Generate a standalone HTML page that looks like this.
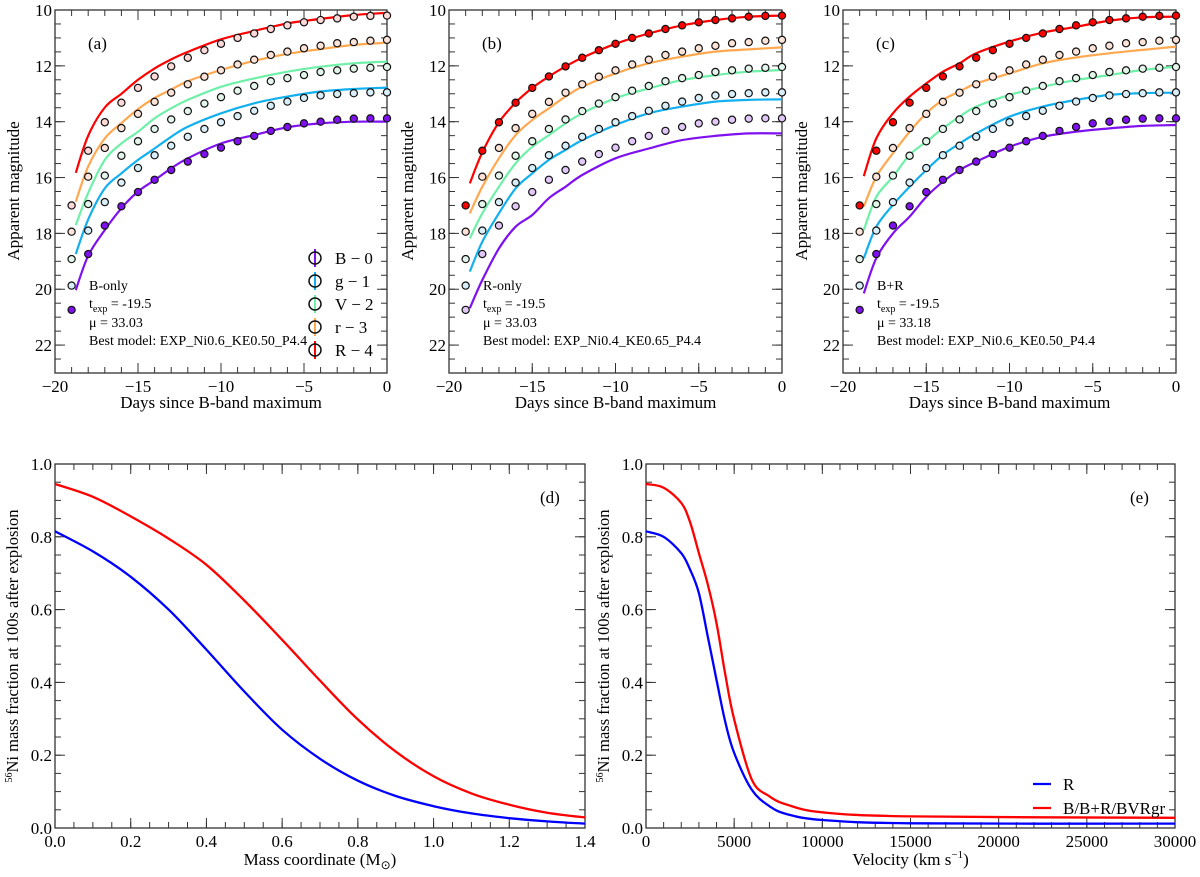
<!DOCTYPE html>
<html><head><meta charset="utf-8">
<style>
body{margin:0;background:#fff;}
svg{display:block;font-family:"Liberation Serif",serif;}
</style></head>
<body>
<svg id="fig" width="1200" height="877" viewBox="0 0 1200 877" xmlns="http://www.w3.org/2000/svg"></svg>
<script>
// ---- Light-curve data (shared observed points) ----
const obsDays = [-19,-18,-17,-16,-15,-14,-13,-12,-11,-10,-9,-8,-7,-6,-5,-4,-3,-2,-1,0];
const obsR = [17.0,15.04,14.02,13.32,12.79,12.38,12.02,11.71,11.44,11.21,11.0,10.84,10.68,10.55,10.44,10.36,10.30,10.24,10.21,10.20];
const obsr = [17.94,15.97,14.94,14.23,13.72,13.29,12.96,12.66,12.39,12.16,11.95,11.78,11.61,11.49,11.37,11.28,11.19,11.15,11.10,11.07];
const obsV = [18.92,16.95,15.93,15.22,14.70,14.26,13.92,13.62,13.35,13.12,12.89,12.72,12.55,12.44,12.33,12.22,12.16,12.10,12.07,12.04];
const obsg = [19.87,17.90,16.88,16.18,15.66,15.20,14.86,14.54,14.26,14.02,13.80,13.61,13.43,13.28,13.15,13.06,13.01,12.98,12.95,12.95];
const obsB = [20.74,18.74,17.72,17.03,16.52,16.08,15.73,15.43,15.16,14.93,14.70,14.51,14.33,14.19,14.06,14.00,13.93,13.89,13.88,13.88];
const modelDays = [-18.75,-18,-17,-16,-15,-14,-13,-12,-10,-8,-6,-4,-2,0];
// panel a models
const aR = [15.83,14.5,13.49,13.0,12.5,12.09,11.77,11.5,11.05,10.75,10.48,10.32,10.18,10.1];
const ar = [16.86,15.6,14.6,14.05,13.55,13.15,12.85,12.55,12.15,11.82,11.57,11.4,11.25,11.17];
const aV = [17.7,16.55,15.37,14.78,14.36,13.88,13.52,13.22,12.75,12.45,12.21,12.03,11.91,11.85];
const ag = [18.74,17.5,16.39,15.85,15.37,14.96,14.54,14.18,13.7,13.34,13.1,12.92,12.83,12.78];
const aB = [20.03,18.8,17.88,17.1,16.5,16.09,15.67,15.31,14.78,14.48,14.2,14.06,14.0,14.0];
// panel b models
const bR = [16.21,15.1,14.02,13.32,12.79,12.38,12.02,11.71,11.21,10.84,10.55,10.36,10.24,10.2];
const br = [17.28,16.33,15.31,14.48,13.94,13.52,13.1,12.75,12.27,11.91,11.67,11.49,11.41,11.34];
const bV = [18.18,17.28,16.33,15.49,14.9,14.48,14.06,13.7,13.16,12.81,12.51,12.33,12.21,12.15];
const bg = [19.37,18.3,17.28,16.39,15.85,15.37,15.01,14.66,14.12,13.7,13.46,13.28,13.22,13.2];
const bB = [20.68,19.67,18.54,17.76,17.34,16.74,16.33,15.91,15.31,14.96,14.66,14.51,14.42,14.42];
// panel c models
const cR = [15.95,14.6,13.7,13.1,12.63,12.21,11.91,11.55,11.13,10.81,10.6,10.38,10.26,10.24];
const cr = [17.04,15.97,15.13,14.36,13.7,13.22,12.92,12.63,12.27,11.91,11.7,11.55,11.43,11.31];
const cV = [17.88,16.69,15.97,15.19,14.72,14.24,13.82,13.46,13.04,12.75,12.51,12.33,12.15,12.03];
const cg = [18.89,17.76,16.98,16.33,15.73,15.19,14.78,14.42,13.82,13.46,13.22,13.04,12.98,12.96];
const cB = [20.15,18.89,18.0,17.4,16.69,16.15,15.73,15.43,14.9,14.54,14.36,14.24,14.15,14.12];
const magTicks = [10,12,14,16,18,20,22];
const dayTicks = [-20,-15,-10,-5,0];
// ---- Ni profiles ----
const massX = [0,0.1,0.2,0.3,0.4,0.5,0.6,0.7,0.8,0.9,1.0,1.1,1.2,1.3,1.4];
const massRed = [0.945,0.91,0.856,0.795,0.723,0.625,0.517,0.405,0.298,0.21,0.142,0.095,0.064,0.042,0.029];
const massBlue = [0.815,0.76,0.69,0.60,0.49,0.375,0.27,0.19,0.13,0.088,0.06,0.04,0.027,0.018,0.012];
const velX = [0,1000,2000,2500,3000,3500,4000,4500,5000,6000,7000,8000,10000,15000,30000];
const velRed = [0.945,0.935,0.893,0.84,0.755,0.67,0.563,0.42,0.298,0.133,0.087,0.064,0.043,0.032,0.028];
const velBlue = [0.815,0.8,0.755,0.71,0.645,0.527,0.407,0.29,0.206,0.105,0.06,0.038,0.022,0.013,0.012];
const massTicks = [0,0.2,0.4,0.6,0.8,1.0,1.2,1.4];
const velTicks = [0,5000,10000,15000,20000,25000,30000];
const fracTicks = [0,0.2,0.4,0.6,0.8,1.0];

const NS='http://www.w3.org/2000/svg';
const svg=document.getElementById('fig');
function mk(tag,attrs,parent){const e=document.createElementNS(NS,tag);for(const k in attrs)e.setAttribute(k,attrs[k]);(parent||svg).appendChild(e);return e;}
function scale(d0,d1,p0,p1){return v=>p0+(v-d0)/(d1-d0)*(p1-p0);}

const COL={R:'#ff0000',r:'#ffa850',V:'#6ef0a8',g:'#12b0ee',B:'#7f10f0'};

function frame(g,L,R,T,B,sx,sy,xmaj,xmin,ymaj,ymin,xfmt,yfmt){
  mk('rect',{x:L,y:T,width:R-L,height:B-T,fill:'none',stroke:'#333',"stroke-width":1.3},g);
  for(const v of xmin){const x=sx(v);mk('line',{x1:x,x2:x,y1:B,y2:B-6,stroke:'#333'},g);mk('line',{x1:x,x2:x,y1:T,y2:T+6,stroke:'#333'},g);}
  for(const v of xmaj){const x=sx(v);mk('line',{x1:x,x2:x,y1:B,y2:B-10,stroke:'#333'},g);mk('line',{x1:x,x2:x,y1:T,y2:T+10,stroke:'#333'},g);
    const t=mk('text',{x:x,y:B+19,"text-anchor":"middle","font-size":17},g);t.textContent=xfmt(v);
    
    }
  for(const v of ymin){const y=sy(v);mk('line',{x1:L,x2:L+6,y1:y,y2:y,stroke:'#333'},g);mk('line',{x1:R,x2:R-6,y1:y,y2:y,stroke:'#333'},g);}
  for(const v of ymaj){const y=sy(v);mk('line',{x1:L,x2:L+10,y1:y,y2:y,stroke:'#333'},g);mk('line',{x1:R,x2:R-10,y1:y,y2:y,stroke:'#333'},g);
    const t=mk('text',{x:L-3,y:y+6,"text-anchor":"end","font-size":17},g);t.textContent=yfmt(v);
    
    }
}
function line(g,xs,ys,sx,sy,color,w,name){
  const P=xs.map((x,i)=>[sx(x),sy(ys[i])]);
  let d='M'+P[0][0].toFixed(1)+' '+P[0][1].toFixed(1);
  for(let i=0;i<P.length-1;i++){
    const p0=P[Math.max(0,i-1)],p1=P[i],p2=P[i+1],p3=P[Math.min(P.length-1,i+2)];
    const c1=[p1[0]+(p2[0]-p0[0])/6,p1[1]+(p2[1]-p0[1])/6];
    const c2=[p2[0]-(p3[0]-p1[0])/6,p2[1]-(p3[1]-p1[1])/6];
    d+=' C'+c1[0].toFixed(1)+' '+c1[1].toFixed(1)+' '+c2[0].toFixed(1)+' '+c2[1].toFixed(1)+' '+p2[0].toFixed(1)+' '+p2[1].toFixed(1);
  }
  const p=mk('path',{d:d,fill:'none',stroke:color,"stroke-width":w,"stroke-linejoin":"round"},g);
  
  
}

function lcPanel(L,R,letter,models,fills,info){
  const g=mk('g',{});
  
  
  const T=10,B=373;
  const sx=scale(-20,0,L,R), sy=scale(10,23,T,B);
  const minX=[];for(let v=-20;v<=0;v++)minX.push(v);
  const minY=[];for(let v=10;v<=23;v+=0.5)minY.push(v);
  frame(g,L,R,T,B,sx,sy,dayTicks,minX,magTicks,minY,v=>v<0?'\u2212'+(-v):''+v,v=>''+v);
  const bands=['R','r','V','g','B'];
  const obs={R:obsR,r:obsr,V:obsV,g:obsg,B:obsB};
  bands.forEach(b=>line(g,modelDays,models[b],sx,sy,COL[b],2.2,'model-line-'+b));
  bands.forEach(b=>{obs[b].forEach((m,i)=>{
    const c=mk('circle',{cx:sx(obsDays[i]),cy:sy(m),r:3.6,fill:fills[b],stroke:'#111',"stroke-width":1.2},g);
    
    
  });});
  const lab=mk('text',{x:L+33,y:49,"font-size":17},g);lab.textContent='('+letter+')';
  
  
  const ix=L+34;
  const t1=mk('text',{x:ix,y:290,"font-size":14},g);t1.textContent=info[0];
  
  
  const t2=mk('text',{x:ix,y:308,"font-size":14},g);
  
  
  t2.innerHTML='t<tspan font-size="10" dy="4">exp</tspan><tspan dy="-4"> = -19.5</tspan>';
  const t3=mk('text',{x:ix,y:327,"font-size":14},g);t3.textContent='\u03bc = '+info[1];
  
  
  const t4=mk('text',{x:ix,y:345,"font-size":14},g);t4.textContent='Best model: '+info[2];
  
  
  const yl=mk('text',{x:0,y:0,"font-size":17,"text-anchor":"middle",transform:`translate(${L-36},191) rotate(-90)`},g);yl.textContent='Apparent magnitude';
  
  
  const xl=mk('text',{x:(L+R)/2,y:408,"font-size":17,"text-anchor":"middle"},g);xl.textContent='Days since B-band maximum';
  
  
  return g;
}
const light={R:'#ffd8d8',r:'#fde3d8',V:'#e4f6ec',g:'#d8eef8',B:'#eadcf8'};
lcPanel(55,387,'a',{R:aR,r:ar,V:aV,g:ag,B:aB},Object.assign({},light,{B:COL.B}),['B-only','33.03','EXP_Ni0.6_KE0.50_P4.4']);
lcPanel(449,782,'b',{R:bR,r:br,V:bV,g:bg,B:bB},Object.assign({},light,{R:COL.R,B:'#e2c8f8'}),['R-only','33.03','EXP_Ni0.4_KE0.65_P4.4']);
lcPanel(843,1176,'c',{R:cR,r:cr,V:cV,g:cg,B:cB},Object.assign({},light,{R:COL.R,B:COL.B}),['B+R','33.18','EXP_Ni0.6_KE0.50_P4.4']);

// legend in panel a
const legNames=[['B','B \u2212 0'],['g','g \u2212 1'],['V','V \u2212 2'],['r','r \u2212 3'],['R','R \u2212 4']];
legNames.forEach((n,i)=>{
  const y=258+i*23;
  const g=mk('g',{});
  
  
  mk('line',{x1:315,x2:315,y1:y-9,y2:y+9,stroke:COL[n[0]],"stroke-width":2},g);
  mk('circle',{cx:315,cy:y,r:6,fill:'none',stroke:'#111',"stroke-width":1.5},g);
  const t=mk('text',{x:335,y:y+6,"font-size":17},g);t.textContent=n[1];
});

function niPanel(L,R,letter,xs,red,blue,xmax,xticks,minStep,xfmt,xtitle){
  const g=mk('g',{});
  
  
  const T=464,B=828;
  const sx=scale(0,xmax,L,R), sy=scale(0,1,B,T);
  const minX=[];for(let v=0;v<=xmax+1e-9;v+=minStep)minX.push(v);
  const minY=[];for(let v=0;v<=1.0001;v+=0.05)minY.push(v);
  frame(g,L,R,T,B,sx,sy,xticks,minX,fracTicks,minY,xfmt,v=>v.toFixed(1));
  line(g,xs,red,sx,sy,'#ff0000',2.3,'red-profile');
  line(g,xs,blue,sx,sy,'#0000ff',2.3,'blue-profile');
  const lab=mk('text',{x:R-45,y:503,"font-size":17},g);lab.textContent='('+letter+')';
  
  
  const yl=mk('text',{x:0,y:0,"font-size":16.5,"text-anchor":"middle",transform:`translate(${L-37},646) rotate(-90)`},g);
  yl.innerHTML='<tspan font-size="10" dy="-6">56</tspan><tspan dy="6">Ni mass fraction at 100s after explosion</tspan>';
  
  
  const xl=mk('text',{x:(L+R)/2,y:865,"font-size":17,"text-anchor":"middle"},g);xl.innerHTML=xtitle;
  
  
  return g;
}
niPanel(55,585,'d',massX,massRed,massBlue,1.4,massTicks,0.05,v=>v.toFixed(1),'Mass coordinate (M<tspan font-size="12" dy="4">\u2299</tspan><tspan dy="-4">)</tspan>');
const ge=niPanel(646,1175,'e',velX,velRed,velBlue,30000,velTicks,1000,v=>''+v,'Velocity (km s<tspan font-size="11" dy="-7">\u22121</tspan><tspan dy="7">)</tspan>');
[['#0000ff','R',784],['#ff0000','B/B+R/BVRgr',808]].forEach(e=>{
  const g=mk('g',{},ge);
  
  
  mk('line',{x1:1033,x2:1051,y1:e[2],y2:e[2],stroke:e[0],"stroke-width":2.3},g);
  const t=mk('text',{x:1063,y:e[2]+6,"font-size":17},g);t.textContent=e[1];
});
</script>
</body></html>
